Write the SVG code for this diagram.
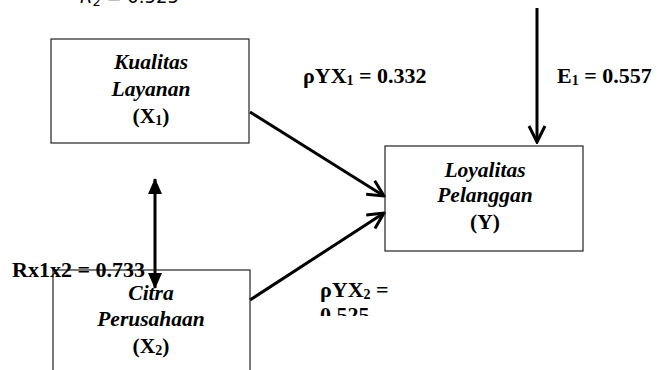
<svg xmlns="http://www.w3.org/2000/svg" width="662" height="370" viewBox="0 0 662 370">
<style>
.box{fill:none;stroke:#222;stroke-width:1.2}
.nt{font-family:"Liberation Serif","Times New Roman",serif;font-weight:bold;font-style:italic;font-size:21.5px;fill:#000;text-anchor:middle}
.np{font-family:"Liberation Serif","Times New Roman",serif;font-weight:bold;font-size:21.5px;fill:#000;text-anchor:middle}
.lb{font-family:"Liberation Serif","Times New Roman",serif;font-weight:bold;font-size:22px;fill:#000}
.sub{font-size:14px}
.ln{stroke:#000;stroke-width:3;fill:none}
</style>
<defs>
<marker id="open" viewBox="0 0 20 20" refX="18" refY="10" markerWidth="20" markerHeight="20" markerUnits="userSpaceOnUse" orient="auto">
<path d="M2,2 L18,10 L2,18" fill="none" stroke="#000" stroke-width="3"/>
</marker>
<marker id="fill" viewBox="0 0 16 16" refX="15" refY="8" markerWidth="16" markerHeight="16" markerUnits="userSpaceOnUse" orient="auto-start-reverse">
<path d="M0,1 L16,8 L0,15 Z" fill="#000"/>
</marker>
<clipPath id="clipB"><rect x="300" y="280" width="200" height="36"/></clipPath>
</defs>

<text x="80" y="3" font-family="'DejaVu Sans',sans-serif" font-size="18" fill="#000"><tspan font-style="italic">R</tspan><tspan font-size="13" dy="3">2</tspan><tspan dy="-3"> = 0.525</tspan></text>

<g id="connectors">
<line class="ln" x1="250" y1="112" x2="384" y2="196" marker-end="url(#open)"/>
<line class="ln" x1="250" y1="300" x2="384" y2="213" marker-end="url(#open)"/>
<line class="ln" x1="537" y1="8" x2="537" y2="142" marker-end="url(#open)"/>
<line class="ln" x1="155" y1="179" x2="155" y2="288" marker-start="url(#fill)" marker-end="url(#fill)"/>
</g>

<g id="X1">
<rect class="box" x="51" y="39" width="198" height="104"/>
<text class="nt" x="151" y="69">Kualitas</text>
<text class="nt" x="151" y="96">Layanan</text>
<text class="np" x="151" y="123">(X<tspan class="sub" dy="2">1</tspan><tspan dy="-2">)</tspan></text>
</g>

<g id="Y">
<rect class="box" x="385" y="146" width="198" height="105"/>
<text class="nt" x="485" y="177">Loyalitas</text>
<text class="nt" x="485" y="202">Pelanggan</text>
<text class="np" x="485" y="229">(Y)</text>
</g>

<g id="X2">
<rect class="box" x="53" y="270" width="197" height="110"/>
<text class="nt" x="151" y="300">Citra</text>
<text class="nt" x="151" y="326">Perusahaan</text>
<text class="np" x="151" y="353">(X<tspan class="sub" dy="2">2</tspan><tspan dy="-2">)</tspan></text>
</g>

<g id="labels">
<text class="lb" x="12" y="277">Rx1x2 = 0.733</text>
<text class="lb" x="303" y="83">ρYX<tspan class="sub" dy="2">1</tspan><tspan dy="-2"> = 0.332</tspan></text>
<text class="lb" x="557" y="83">E<tspan class="sub" dy="2">1</tspan><tspan dy="-2"> = 0.557</tspan></text>
<g clip-path="url(#clipB)">
<text class="lb" x="320" y="297">ρYX<tspan class="sub" dy="2">2</tspan><tspan dy="-2"> =</tspan></text>
<text class="lb" x="320" y="322">0.525</text>
</g>
</g>
</svg>
